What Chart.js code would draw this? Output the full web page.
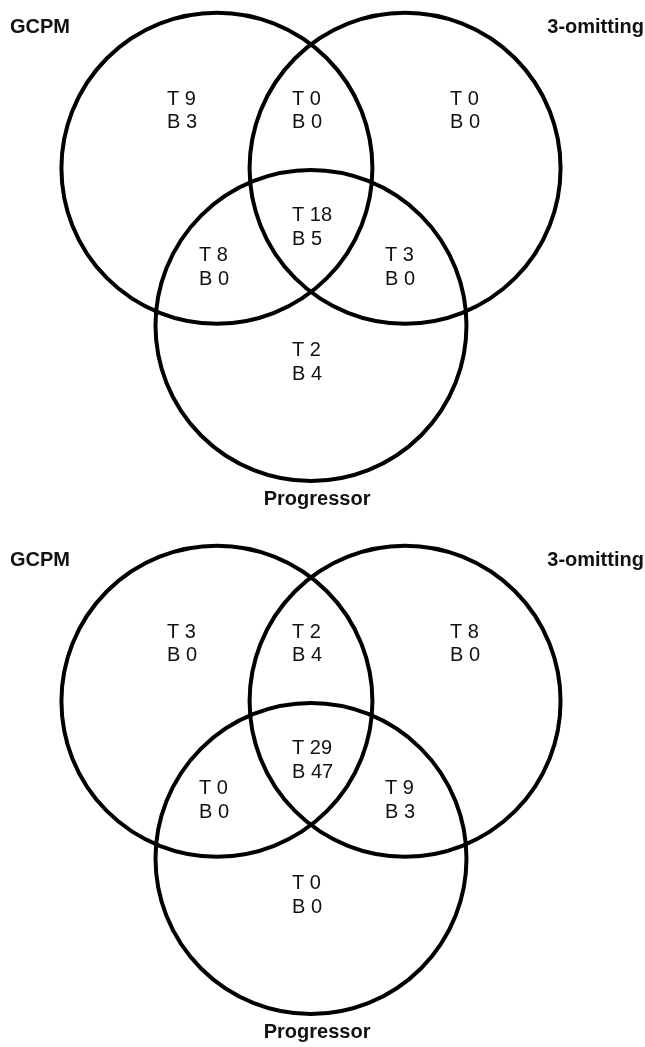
<!DOCTYPE html>
<html>
<head>
<meta charset="utf-8">
<script src="https://cdn.jsdelivr.net/npm/chart.js@4/dist/chart.umd.min.js"></script>
<style>
  html, body { margin: 0; padding: 0; background: #fff; overflow: hidden; }
  #page { position: relative; width: 645px; height: 1047px; overflow: hidden; }
  .panel { position: absolute; left: 0; width: 645px; height: 532px; }
</style>
</head>
<body>
<div id="page">
  <div class="panel" style="top:0px"><canvas id="vennTop"></canvas></div>
  <div class="panel" style="top:533px"><canvas id="vennBottom"></canvas></div>
</div>
<script>
// ---- data ----
const setNames = ['GCPM', '3-omitting', 'Progressor'];
const regionNames = ['GCPM only', 'GCPM & 3-omitting', '3-omitting only', 'All three',
                     'GCPM & Progressor', '3-omitting & Progressor', 'Progressor only'];
const topT    = [9, 0, 0, 18, 8, 3, 2];
const topB    = [3, 0, 0, 5, 0, 0, 4];
const bottomT = [3, 2, 8, 29, 0, 9, 0];
const bottomB = [0, 4, 0, 47, 0, 3, 0];

// ---- layout (in circle-radius units) ----
const circleRadius = 1;
const circleCenters = [[-0.605, 0], [0.605, 0], [0, -1.012]];
// left edge x, y of the "T" line for each region
const regionAnchors = [[-0.926, 0.443], [-0.122, 0.443], [0.894, 0.443], [-0.122, -0.306],
                       [-0.720, -0.563], [0.476, -0.563], [-0.122, -1.174]];
const lineGap = 0.150;
// set name anchors: x, y, alignment
const setLabelAnchors = [[-1.936, 0.904, 'left'], [2.141, 0.904, 'right'], [0.039, -2.134, 'center']];

const FONT = '"Liberation Sans", Arial, Helvetica, sans-serif';

/**
 * Draws the circles and the region / set labels through the chart scales
 */
const vennPlugin = {
    id: 'vennPlugin',
    afterDatasetsDraw(chart, args, opts) {
        const ctx = chart.ctx;
        const xs = chart.scales.x;
        const ys = chart.scales.y;
        const meta = chart.getDatasetMeta(0);

        // circles
        ctx.save();
        ctx.strokeStyle = '#000';
        ctx.lineWidth = 4;
        meta.data.forEach((pt, i) => {
            const raw = chart.data.datasets[0].data[i];
            const rPx = xs.getPixelForValue(raw.x + circleRadius) - xs.getPixelForValue(raw.x);
            ctx.beginPath();
            ctx.arc(pt.x, pt.y, rPx, 0, Math.PI * 2);
            ctx.stroke();
        });
        ctx.restore();

        // region counts
        ctx.save();
        ctx.fillStyle = '#111';
        ctx.font = '20px ' + FONT;
        ctx.textAlign = 'left';
        ctx.textBaseline = 'middle';
        opts.tValues.forEach((t, i) => {
            const [ax, ay] = regionAnchors[i];
            const px = xs.getPixelForValue(ax);
            ctx.fillText('T ' + t, px, ys.getPixelForValue(ay));
            ctx.fillText('B ' + opts.bValues[i], px, ys.getPixelForValue(ay - lineGap));
        });
        ctx.restore();

        // set names
        ctx.save();
        ctx.fillStyle = '#111';
        ctx.font = 'bold 20px ' + FONT;
        ctx.textBaseline = 'middle';
        setNames.forEach((name, i) => {
            const [ax, ay, align] = setLabelAnchors[i];
            ctx.textAlign = align;
            ctx.fillText(name, xs.getPixelForValue(ax), ys.getPixelForValue(ay));
        });
        ctx.restore();
    }
};

function buildVenn(canvasId, tValues, bValues) {
    const ctx = document.getElementById(canvasId).getContext('2d');
    return new Chart(ctx, {
        type: 'scatter',
        data: {
            datasets: [{
                label: 'sets',
                data: circleCenters.map((c, i) => ({ x: c[0], y: c[1], name: setNames[i] })),
                pointRadius: 0,
                pointHoverRadius: 0
            }]
        },
        options: {
            responsive: true,
            maintainAspectRatio: false,
            animation: false,
            events: [],
            layout: { padding: 0 },
            scales: {
                x: { type: 'linear', min: -2.0, max: 2.148, display: false },
                y: { type: 'linear', min: -2.340, max: 1.082, display: false }
            },
            plugins: {
                legend: { display: false },
                tooltip: { enabled: false },
                vennPlugin: { tValues: tValues, bValues: bValues }
            }
        },
        plugins: [vennPlugin]
    });
}

buildVenn('vennTop', topT, topB);
buildVenn('vennBottom', bottomT, bottomB);
</script>
</body>
</html>
